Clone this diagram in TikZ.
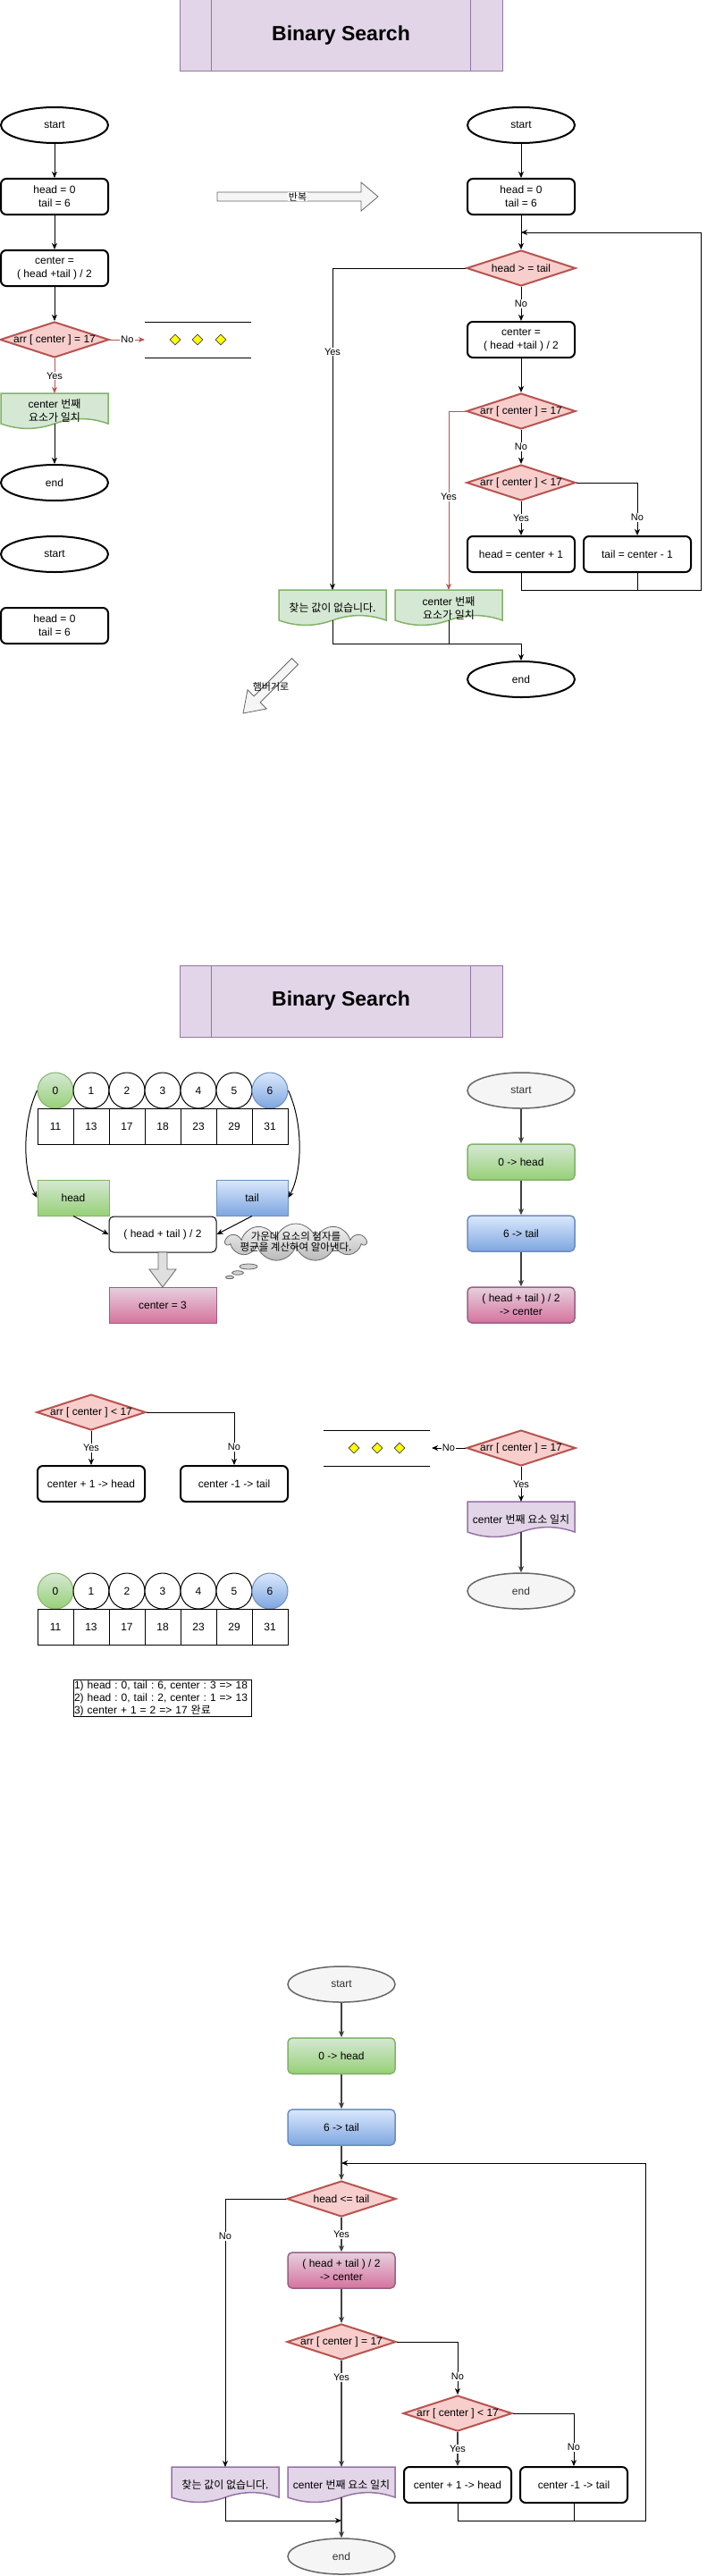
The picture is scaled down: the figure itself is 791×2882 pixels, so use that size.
\documentclass[tikz,border=0pt]{standalone}
\usepackage{fontspec}
\setmainfont{Liberation Sans}
\newfontfamily\kr{Noto Sans CJK KR}
\usetikzlibrary{shapes.geometric,shapes.symbols,arrows.meta}
\definecolor{rd}{HTML}{B85450}
\definecolor{rdf}{HTML}{F8CECC}
\definecolor{gn}{HTML}{82B366}
\definecolor{gnf}{HTML}{D5E8D4}
\definecolor{gng}{HTML}{97D077}
\definecolor{bl}{HTML}{6C8EBF}
\definecolor{blf}{HTML}{DAE8FC}
\definecolor{blg}{HTML}{7EA6E0}
\definecolor{pk}{HTML}{996185}
\definecolor{pkf}{HTML}{E6D0DE}
\definecolor{pkg}{HTML}{D5739D}
\definecolor{pu}{HTML}{9673A6}
\definecolor{puf}{HTML}{E1D5E7}
\definecolor{gy}{HTML}{666666}
\definecolor{gyf}{HTML}{F5F5F5}
\definecolor{gyt}{HTML}{333333}
\definecolor{yl}{HTML}{FFFF00}
\frenchspacing
\newcommand{\mydoc}[7]{%
  \path[fill=#5,draw=#6,line width=1.5pt]
    ({#2-#4/2},{#3-20}) -- ({#2+#4/2},{#3-20}) -- ({#2+#4/2},{#3+14})
    .. controls ({#2+#4/3},{#3+6.8}) and ({#2+#4/6},{#3+6.8}) .. ({#2},{#3+14})
    .. controls ({#2-#4/6},{#3+21.2}) and ({#2-#4/3},{#3+21.2}) .. ({#2-#4/2},{#3+14}) -- cycle;
  \coordinate (#1t) at (#2,{#3-20});
  \coordinate (#1b) at (#2,{#3+14});
  \node[txt] (#1) at (#2,#3) {#7};
}
\tikzset{
  txt/.style={font=\fontsize{12}{15}\selectfont, align=center, inner sep=0pt},
  titlebox/.style={draw=pu, fill=puf, line width=1pt, minimum width=361pt, minimum height=80pt, font=\fontsize{23}{28}\selectfont\bfseries},
  term1/.style={txt, ellipse, draw, line width=2pt, fill=white, minimum width=120pt, minimum height=40pt},
  term2/.style={txt, ellipse, draw=gy, fill=gyf, text=gyt, line width=1.5pt, minimum width=120pt, minimum height=40pt},
  box1/.style={txt, draw, line width=2pt, rounded corners=6pt, fill=white, minimum width=120pt, minimum height=40pt},
  dia/.style={txt, diamond, draw=rd, fill=rdf, line width=2pt, minimum width=122pt, minimum height=40pt},
  gbox/.style={txt, draw=gn, top color=gnf, bottom color=gng, line width=1.5pt, rounded corners=5pt, minimum width=120pt, minimum height=40pt},
  bbox/.style={txt, draw=bl, top color=blf, bottom color=blg, line width=1.5pt, rounded corners=5pt, minimum width=120pt, minimum height=40pt},
  pbox/.style={txt, draw=pk, top color=pkf, bottom color=pkg, line width=1.5pt, rounded corners=5pt, minimum width=120pt, minimum height=40pt},
  circ/.style={txt, ellipse, draw, line width=1pt, fill=white, minimum width=40pt, minimum height=40pt},
  gcirc/.style={circ, top color=gnf, bottom color=gng, draw=gn},
  bcirc/.style={circ, top color=blf, bottom color=blg, draw=bl},
  vcell/.style={txt, draw, line width=1pt, minimum width=40pt, minimum height=40pt},
  ydia/.style={diamond, draw=black!75, fill=yl, line width=0.8pt, minimum width=12pt, minimum height=12pt, inner sep=0pt},
  ar/.style={line width=1pt, -{Stealth[length=7pt,width=6pt,inset=2pt]}},
  gar/.style={ar, black!75, line width=1.2pt},
  lbl/.style={fill=white, text=black, font=\fontsize{11}{13}\selectfont, inner sep=1pt},
  bub/.style={ellipse, draw=gy, fill=gray!35, line width=0.8pt, inner sep=0pt},
}
\begin{document}
\begin{tikzpicture}[x=1pt,y=-1pt]
\fill[white] (0,0) rectangle (791,2882);
\useasboundingbox (0,0) rectangle (791,2882);

% ================= Section 1 =================
\node[titlebox] (t1) at (381.5,40) {Binary Search};
\draw[pu,line width=1pt] ([xshift=36pt]t1.north west) -- ([xshift=36pt]t1.south west)
  ([xshift=-36pt]t1.north east) -- ([xshift=-36pt]t1.south east);

% left column
\node[term1] (s1) at (61,140) {start};
\node[box1] (b1) at (61,220) {head = 0\\tail = 6};
\node[box1] (b2) at (61,300) {center =\\( head +tail ) / 2};
\node[dia] (d1) at (61,380) {\makebox[0pt]{arr [ center ] = 17}};
\mydoc{doc1}{61}{460}{120}{gnf}{gn}{center {\kr 번째}\\{\kr 요소가 일치}}
\node[term1] (e1) at (61,540) {end};
\node[term1] (s1b) at (61,620) {start};
\node[box1] (b1b) at (61,700) {head = 0\\tail = 6};
\draw[ar] (s1) -- (b1);
\draw[ar] (b1) -- (b2);
\draw[ar] (b2) -- (d1);
\draw[ar,rd] (d1) -- node[lbl]{Yes} (doc1t);
\draw[ar] (doc1b) -- (e1);

% ellipsis 1
\draw[line width=1pt] (162,360) -- (281,360) (162,400) -- (281,400);
\coordinate (el1) at (162,380);
\node[ydia] (y1) at (196,380) {};
\node[ydia] (y2) at (221,380) {};
\node[ydia] (y3) at (247,380) {};
\draw[ar,rd] (d1) -- node[lbl]{No} (el1);

% repeat arrow
\draw[gy,fill=gyf,line width=0.8pt] (243,215) -- (404,215) -- (404,204) -- (423,220) -- (404,236) -- (404,225) -- (243,225) -- cycle;
\node[font=\fontsize{11}{13}\selectfont\kr, fill=white, inner sep=0.5pt] (rep) at (333,220) {반복};

% hamburger arrow
\draw[gy,fill=gyf,line width=0.8pt] (326.5,736.5) -- (284.1,778.9) -- (277.0,771.8) -- (272,798) -- (298.2,793.0) -- (291.1,785.9) -- (333.5,743.5) -- cycle;
\node[font=\fontsize{11}{13}\selectfont\kr, inner sep=0.5pt] (hbg) at (303,768) {햄버거로};

% right column
\node[term1] (s2) at (583,140) {start};
\node[box1] (b3) at (583,220) {head = 0\\tail = 6};
\coordinate (j1) at (583,260);
\node[dia] (d2) at (583,300) {\makebox[0pt]{head > = tail}};
\node[box1] (b4) at (583,380) {center =\\( head +tail ) / 2};
\node[dia] (d3) at (583,460) {\makebox[0pt]{arr [ center ] = 17}};
\node[dia] (d4) at (583,540) {\makebox[0pt]{arr [ center ] < 17}};
\node[box1] (b5) at (583,620) {head = center + 1};
\node[box1] (b6) at (713,620) {tail = center - 1};
\mydoc{doc2}{372}{680}{120}{gnf}{gn}{{\kr 찾는 값이 없습니다.}}
\mydoc{doc3}{502}{680}{120}{gnf}{gn}{center {\kr 번째}\\{\kr 요소가 일치}}
\node[term1] (e2) at (583,760) {end};
\draw[ar] (s2) -- (b3);
\draw[ar] (b3) -- (d2);
\draw[ar] (d2) -- node[lbl]{No} (b4);
\draw[ar] (d2.west) -| node[lbl,pos=0.63]{Yes} (doc2t);
\draw[ar] (b4) -- (d3);
\draw[ar,rd] (d3.west) -| node[lbl,pos=0.74]{Yes} (doc3t);
\draw[ar] (d3) -- node[lbl]{No} (d4);
\draw[ar] (d4) -- node[lbl]{Yes} (b5);
\draw[ar] (d4.east) -| node[lbl,pos=0.83]{No} (b6);
\coordinate (lp1) at (784,660);
\coordinate (lp2) at (784,260);
\draw[ar] (b5.south) |- (lp1) -- (lp2) -- (j1);
\draw[line width=1pt] (b6.south) -- (b6.south |- lp1);
\coordinate (m1) at (583,720);
\draw[line width=1pt] (doc2b) |- (m1);
\draw[line width=1pt] (doc3b) -- (doc3b |- m1);
\draw[ar] (m1) -- (e2);

% ================= Section 2 =================
\node[titlebox] (t2) at (381.5,1120) {Binary Search};
\draw[pu,line width=1pt] ([xshift=36pt]t2.north west) -- ([xshift=36pt]t2.south west)
  ([xshift=-36pt]t2.north east) -- ([xshift=-36pt]t2.south east);

\node[gcirc] (c0) at (62,1220) {0};
\foreach \i in {1,...,5}{\node[circ] (c\i) at ({62+40*\i},1220) {\i};}
\node[bcirc] (c6) at (302,1220) {6};
\foreach \i/\v in {0/11,1/13,2/17,3/18,4/23,5/29,6/31}{
  \node[vcell] (v\i) at ({62+40*\i},1260) {\v};
}

\node[txt, draw=gn, top color=gnf, bottom color=gng, line width=1pt, minimum width=80pt, minimum height=40pt] (hd) at (82,1340) {head};
\node[txt, draw=bl, top color=blf, bottom color=blg, line width=1pt, minimum width=80pt, minimum height=40pt] (tl) at (282,1340) {tail};
\node[txt, draw, line width=1pt, rounded corners=5pt, fill=white, minimum width=120pt, minimum height=40pt] (fm) at (182,1381) {( head + tail ) / 2};
\node[txt, draw=pk, top color=pkf, bottom color=pkg, line width=1pt, minimum width=120pt, minimum height=40pt] (c3) at (182,1460) {center = 3};
\draw[ar] (c0.west) .. controls (24,1258) and (26,1312) .. (hd.west);
\draw[ar] (c6.east) .. controls (340,1258) and (338,1312) .. (tl.east);
\draw[ar] (hd.south) -- (fm.west);
\draw[ar] (tl.south) -- (fm.east);
\draw[gy,fill=gray!25,line width=0.8pt] (177,1401) -- (187,1401) -- (187,1420) -- (197,1420) -- (182,1440) -- (167,1420) -- (177,1420) -- cycle;

% cloud
\node[cloud, cloud puffs=11, cloud ignores aspect, draw=gy, top color=gyf, bottom color=gray!55, line width=0.8pt, minimum width=156pt, minimum height=42pt] (cl) at (331,1390) {};
\node[txt, font=\fontsize{11.5}{12.5}\selectfont\kr] (clt) at (331,1389) {가운데 요소의 첨자를\\평균을 계산하여 알아낸다.};
\node[bub, minimum width=20pt, minimum height=6pt] (bb1) at (278,1417) {};
\node[bub, minimum width=13pt, minimum height=4.5pt] (bb2) at (266,1424) {};
\node[bub, minimum width=9pt, minimum height=3.5pt] (bb3) at (257,1429) {};

% right column
\node[term2] (s3) at (583,1220) {start};
\node[gbox] (r1) at (583,1300) {0 -> head};
\node[bbox] (r2) at (583,1380) {6 -> tail};
\node[pbox] (r3) at (583,1460) {( head + tail ) / 2\\-> center};
\draw[gar] (s3) -- (r1);
\draw[gar] (r1) -- (r2);
\draw[gar] (r2) -- (r3);

% lower left
\node[dia] (d5) at (102,1580) {\makebox[0pt]{arr [ center ] < 17}};
\node[box1] (b7) at (102,1660) {center + 1 -> head};
\node[box1] (b8) at (262,1660) {center -1 -> tail};
\draw[ar] (d5) -- node[lbl]{Yes} (b7);
\draw[ar] (d5.east) -| node[lbl,pos=0.83]{No} (b8);

% ellipsis 2
\draw[line width=1pt] (362,1600) -- (481,1600) (362,1640) -- (481,1640);
\coordinate (el2) at (483,1620);
\node[ydia] (y4) at (396,1620) {};
\node[ydia] (y5) at (422,1620) {};
\node[ydia] (y6) at (447,1620) {};

\node[dia] (d6) at (583,1620) {\makebox[0pt]{arr [ center ] = 17}};
\mydoc{doc4}{583}{1700}{120}{puf}{pu}{center {\kr 번째 요소 일치}}
\node[term2] (e3) at (583,1780) {end};
\draw[ar] (d6) -- node[lbl]{No} (el2);
\draw[ar] (d6) -- node[lbl]{Yes} (doc4t);
\draw[gar] (doc4b) -- (e3);

% second array
\node[gcirc] (cc0) at (62,1780) {0};
\foreach \i in {1,...,5}{\node[circ] (cc\i) at ({62+40*\i},1780) {\i};}
\node[bcirc] (cc6) at (302,1780) {6};
\foreach \i/\v in {0/11,1/13,2/17,3/18,4/23,5/29,6/31}{
  \node[vcell] (vv\i) at ({62+40*\i},1820) {\v};
}

\node[draw, line width=1pt, minimum width=199pt, minimum height=40pt, text width=197pt, inner sep=1pt, align=left, font=\fontsize{12}{14}\selectfont] (nt) at (181.5,1900) {1) head : 0, tail : 6, center : 3 => 18\\2) head : 0, tail : 2, center : 1 => 13\\3) center + 1 = 2 => 17 {\kr 완료}};

% ================= Section 3 =================
\node[term2] (s4) at (382,2220) {start};
\node[gbox] (q1) at (382,2300) {0 -> head};
\node[bbox] (q2) at (382,2380) {6 -> tail};
\coordinate (j2) at (382,2420);
\node[dia] (d7) at (382,2460) {\makebox[0pt]{head <= tail}};
\node[pbox] (q3) at (382,2540) {( head + tail ) / 2\\-> center};
\node[dia] (d8) at (382,2620) {\makebox[0pt]{arr [ center ] = 17}};
\node[dia] (d9) at (512,2700) {\makebox[0pt]{arr [ center ] < 17}};
\node[box1] (q4) at (512,2780) {center + 1 -> head};
\node[box1] (q5) at (642,2780) {center -1 -> tail};
\mydoc{doc5}{252}{2780}{120}{puf}{pu}{{\kr 찾는 값이 없습니다.}}
\mydoc{doc6}{382}{2780}{120}{puf}{pu}{center {\kr 번째 요소 일치}}
\node[term2] (e4) at (382,2860) {end};
\draw[gar] (s4) -- (q1);
\draw[gar] (q1) -- (q2);
\draw[gar] (q2) -- (d7);
\draw[ar] (d7.west) -| node[lbl,pos=0.57]{No} (doc5t);
\draw[gar] (d7) -- node[lbl]{Yes} (q3);
\draw[gar] (q3) -- (d8);
\draw[gar] (d8) -- node[lbl,pos=0.16]{Yes} (doc6t);
\draw[ar] (d8.east) -| node[lbl,pos=0.83]{No} (d9);
\draw[gar] (d9) -- node[lbl]{Yes} (q4);
\draw[ar] (d9.east) -| node[lbl,pos=0.82]{No} (q5);
\coordinate (lp3) at (722,2820);
\coordinate (lp4) at (722,2420);
\draw[ar] (q4.south) |- (lp3) -- (lp4) -- (j2);
\draw[line width=1pt] (q5.south) -- (q5.south |- lp3);
\coordinate (m2) at (382,2820);
\draw[ar] (doc5b) |- (m2);
\draw[gar] (doc6b) -- (e4);
\end{tikzpicture}
\end{document}
